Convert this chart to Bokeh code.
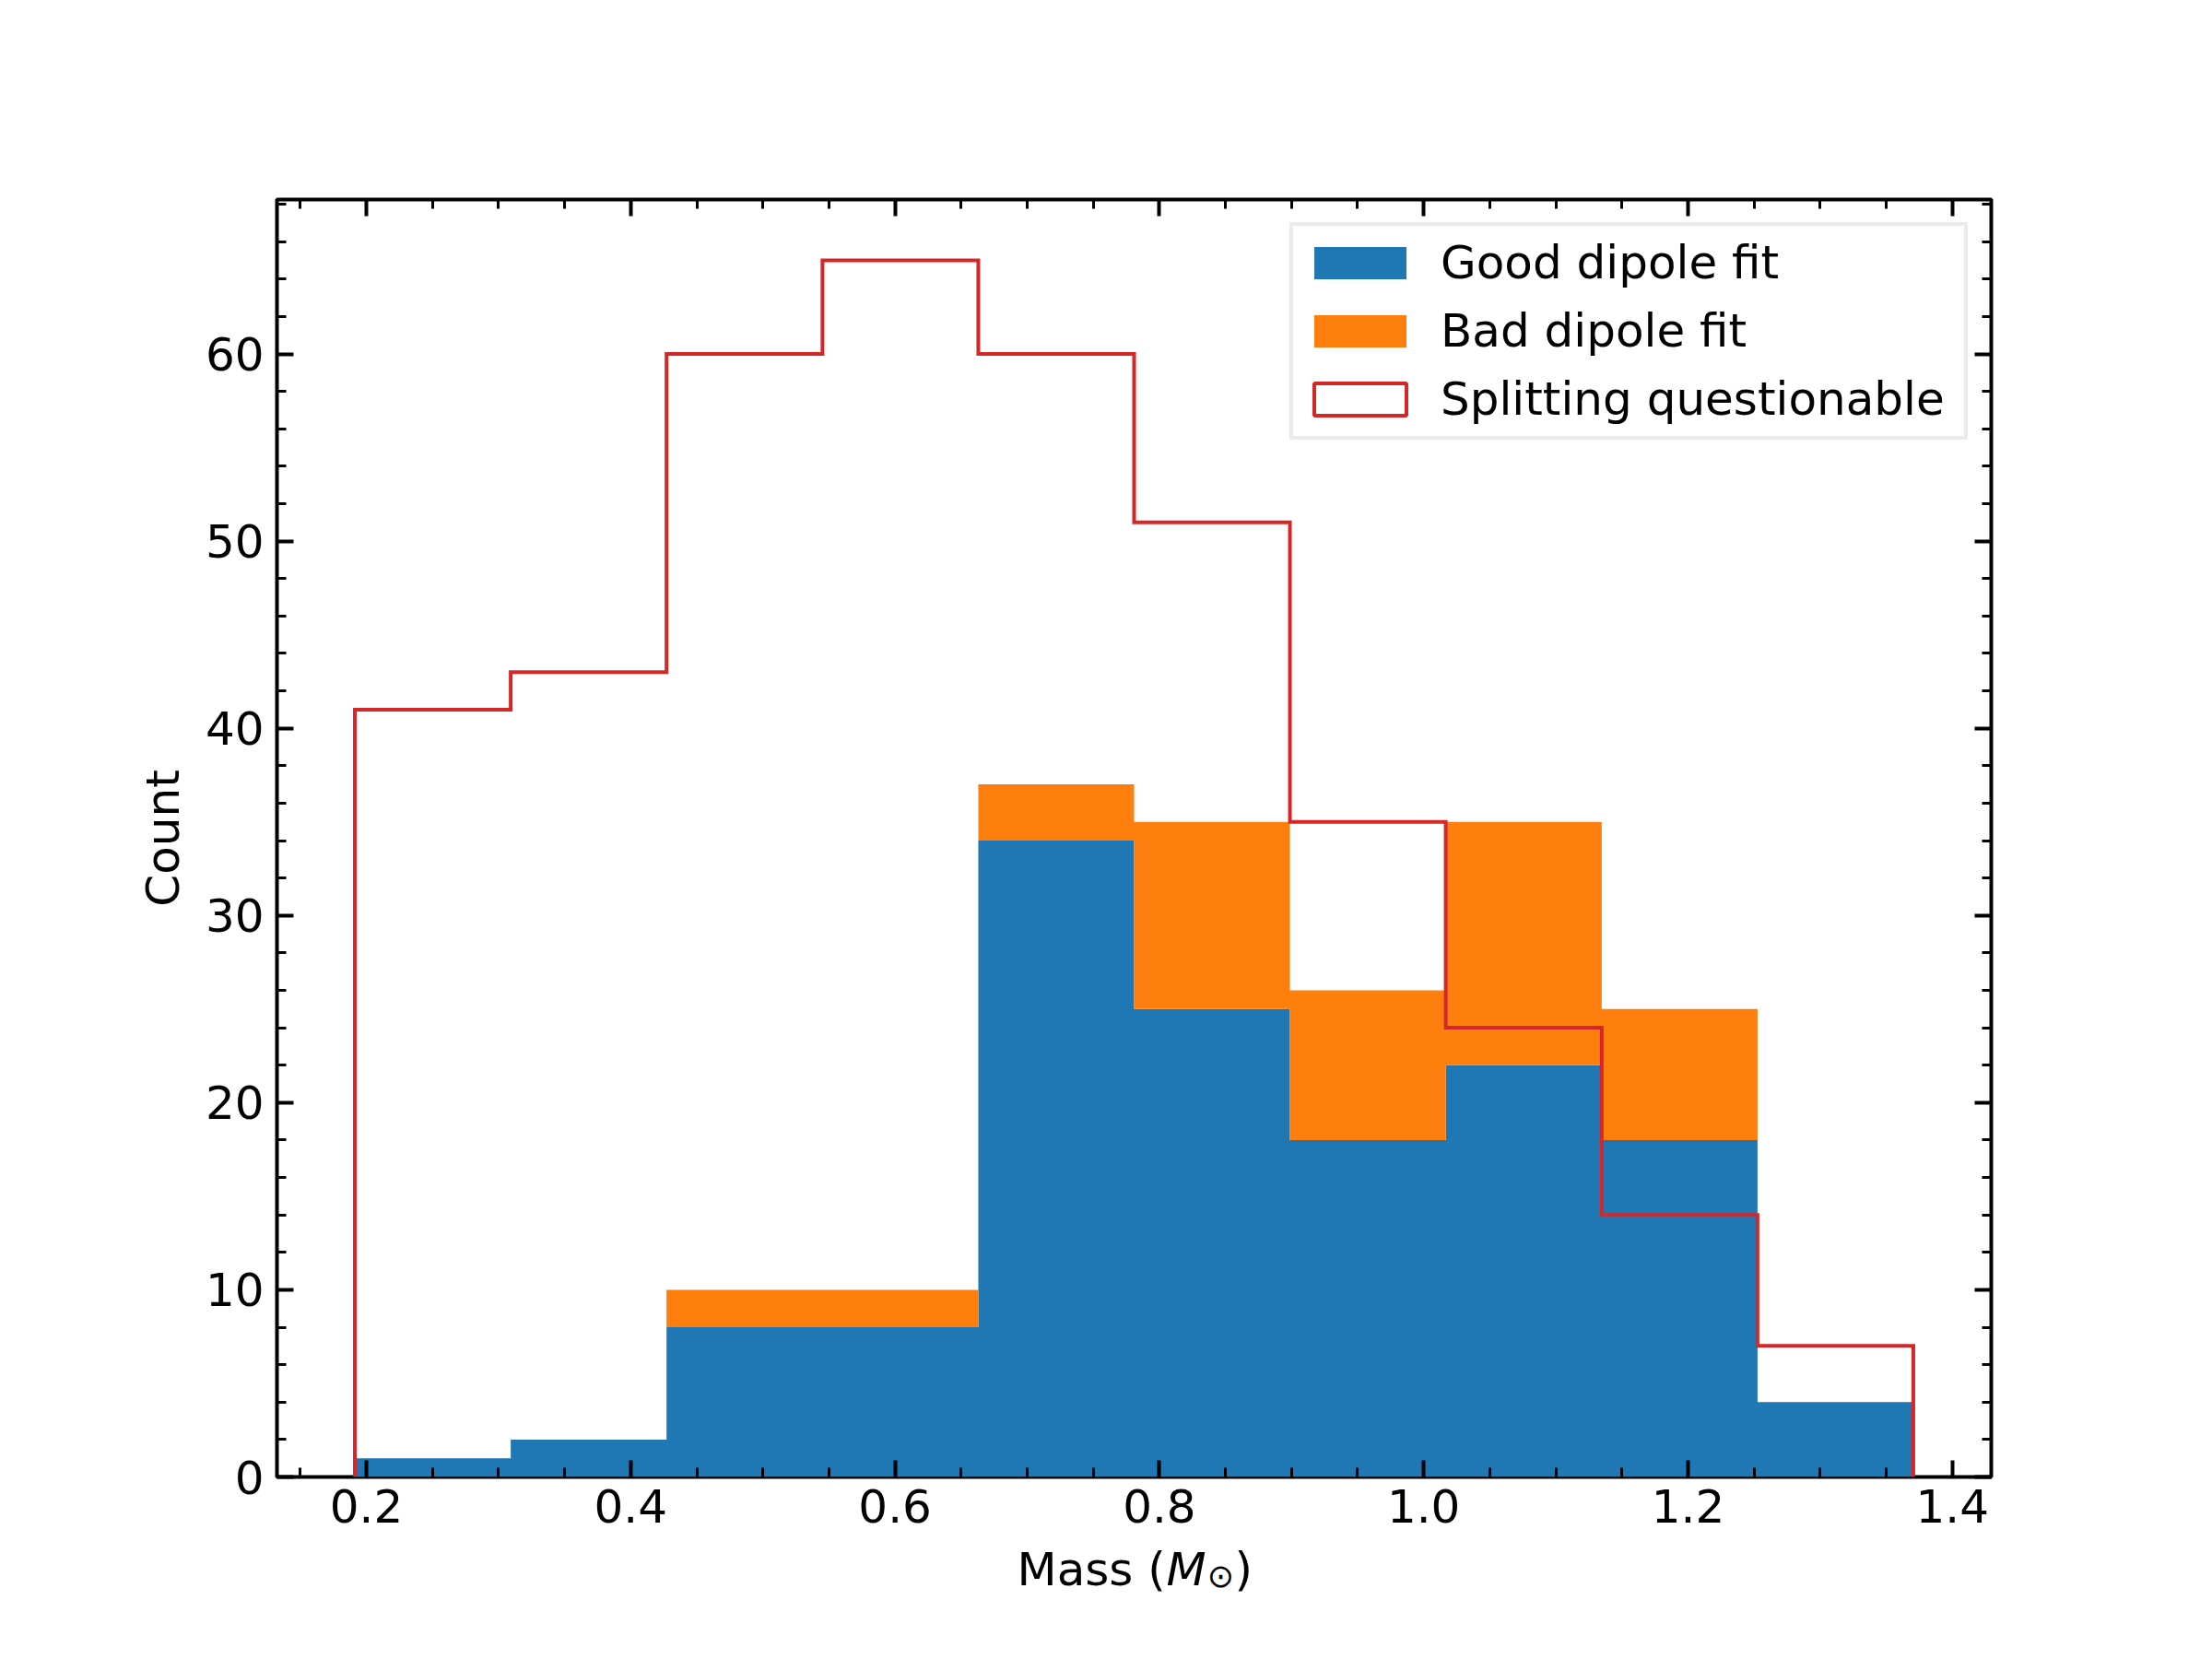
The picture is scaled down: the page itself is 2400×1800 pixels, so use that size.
import numpy as np
from bokeh.plotting import figure
from bokeh.layouts import column
from bokeh.models import (Range1d, LinearAxis, SingleIntervalTicker, PrintfTickFormatter,
                          CustomJSTickFormatter, Legend, LegendItem)
from bokeh.core.properties import value
from bokeh.embed import file_html
from bokeh.resources import INLINE

# ---- data ----
bin_edges = [0.1913, 0.3092, 0.4271, 0.5451, 0.6630, 0.7809, 0.8988, 1.0167, 1.1347, 1.2526, 1.3705]
good_fit = [1, 2, 8, 8, 34, 25, 18, 22, 18, 4]
bad_fit = [0, 0, 2, 2, 3, 10, 8, 13, 7, 0]
splitting_questionable = [41, 43, 60, 65, 60, 51, 35, 24, 14, 7]
series_labels = ["Good dipole fit", "Bad dipole fit", "Splitting questionable"]
x_label_parts = ["Mass (", "M", "\u2299", ")"]
y_label = "Count"

BLUE, ORANGE, RED = "#1f77b4", "#ff7f0e", "#d62728"
FONT = "DejaVu Sans"
FS = "50px"

edges = np.array(bin_edges)
left, right = edges[:-1], edges[1:]
good = np.array(good_fit, dtype=float)
total = good + np.array(bad_fit, dtype=float)
split = np.array(splitting_questionable, dtype=float)

R = edges[-1] - edges[0]
xmin, xmax = edges[0] - 0.05 * R, edges[-1] + 0.05 * R
ymax = 1.05 * max(total.max(), split.max())

W = 2384
FW, FH = 1860, 1386
BL, BT, BB = 300, 216, 100
BR = W - BL - FW
p = figure(frame_width=FW, frame_height=FH,
           x_range=Range1d(xmin, xmax), y_range=Range1d(0, ymax),
           output_backend="svg", toolbar_location=None,
           min_border_left=BL, min_border_right=BR,
           min_border_top=BT, min_border_bottom=BB,
           background_fill_color="white", border_fill_color="white")
p.xgrid.visible = False
p.ygrid.visible = False
p.outline_line_color = "black"
p.outline_line_width = 4
p.outline_line_alpha = 1

p.add_layout(LinearAxis(), "right")
p.add_layout(LinearAxis(), "above")

def style(ax, ticker, formatter, labels):
    ax.ticker = ticker
    ax.formatter = formatter if labels else CustomJSTickFormatter(code="return ''")
    ax.axis_line_color = None
    ax.major_tick_in = 18
    ax.major_tick_out = 0
    ax.minor_tick_in = 10
    ax.minor_tick_out = 0
    ax.major_tick_line_width = 4
    ax.minor_tick_line_width = 3
    ax.major_tick_line_color = "black"
    ax.minor_tick_line_color = "black"
    ax.major_label_text_font = FONT
    ax.major_label_text_font_size = FS
    ax.major_label_text_color = "black"

for ax in p.below + p.above:
    style(ax, SingleIntervalTicker(interval=0.2, num_minor_ticks=4),
          PrintfTickFormatter(format="%.1f"), ax in p.below)
for ax in p.left + p.right:
    style(ax, SingleIntervalTicker(interval=10, num_minor_ticks=5),
          PrintfTickFormatter(format="%d"), ax in p.left)

p.below[0].major_label_standoff = 13
p.left[0].major_label_standoff = 14
p.left[0].axis_label = y_label
p.left[0].axis_label_text_font = FONT
p.left[0].axis_label_text_font_size = FS
p.left[0].axis_label_text_font_style = "normal"
p.left[0].axis_label_text_color = "black"
p.left[0].axis_label_standoff = 14

# ---- histogram marks (stacked, drawn as step areas so bins join seamlessly) ----
step_xs = np.repeat(edges, 2)[1:-1]
good_step = np.repeat(good, 2)
total_step = np.repeat(total, 2)
r_good = p.varea(x=step_xs, y1=np.zeros_like(good_step), y2=good_step,
                 fill_color=BLUE)
r_bad = p.varea(x=step_xs, y1=good_step, y2=total_step, fill_color=ORANGE)

step_x = np.concatenate([[edges[0]], step_xs, [edges[-1]]])
step_y = np.concatenate([[0], np.repeat(split, 2), [0]])
p.line(step_x, step_y, line_color=RED, line_width=4, line_join="miter")
# unfilled outline version of the same histogram, only used for its legend swatch
r_leg = p.quad(left=left, right=right, bottom=0, top=split,
               fill_color=None, line_color=RED, line_width=4, visible=False)

legend = Legend(items=[LegendItem(label=series_labels[0], renderers=[r_good]),
                       LegendItem(label=series_labels[1], renderers=[r_bad]),
                       LegendItem(label=series_labels[2], renderers=[r_leg])],
                location="top_right")
legend.label_text_font = FONT
legend.label_text_font_size = FS
legend.label_text_color = "black"
legend.glyph_width = 125
legend.glyph_height = 44
legend.label_standoff = 25
legend.label_height = 60
legend.label_width = 558
legend.spacing = 14
legend.padding = 10
legend.margin = 25
legend.border_line_color = "#d6d6d6"
legend.border_line_width = 4
legend.background_fill_color = "white"
legend.background_fill_alpha = 1
p.add_layout(legend)

# ---- x axis label strip: "Mass (M_sun)" set like mathtext ----
# transparent strip pulled up under the main plot; x coordinate = page pixels
P_BOTTOM = 1711          # measured bottom of the main plot on the page
OVERLAP = 50
T2 = P_BOTTOM - OVERLAP
H2 = 1784 - T2
p2 = figure(frame_width=FW, frame_height=H2, title=None,
            x_range=Range1d(BL, BL + FW), y_range=Range1d(0, H2),
            output_backend="svg", toolbar_location=None,
            x_axis_location=None, y_axis_location=None,
            min_border_left=BL, min_border_right=BR,
            min_border_top=0, min_border_bottom=0,
            background_fill_alpha=0, border_fill_alpha=0,
            margin=(-OVERLAP, 0, 0, 0))
p2.outline_line_color = None
p2.xgrid.visible = False
p2.ygrid.visible = False
def sy(y_screen):
    return T2 + H2 - y_screen

pieces = [
    (x_label_parts[0], 1103, 1711, "normal", "50px", "left"),
    (x_label_parts[1], 1265, 1711, "italic", "50px", "left"),
    (x_label_parts[2], 1324, 1718, "normal", "35px", "center"),
    (x_label_parts[3], 1339, 1711, "normal", "50px", "left"),
]
for txt, xs, ys, style_, size, align in pieces:
    p2.text(x=[xs], y=[sy(ys)], text=[txt], text_font=value(FONT),
            text_font_size=value(size), text_font_style=style_,
            text_color="black", text_align=align, text_baseline="alphabetic")

layout = column(p, p2, spacing=0)
html = file_html(layout, INLINE, title="Mass histogram")
open("out.html", "w").write(html)
